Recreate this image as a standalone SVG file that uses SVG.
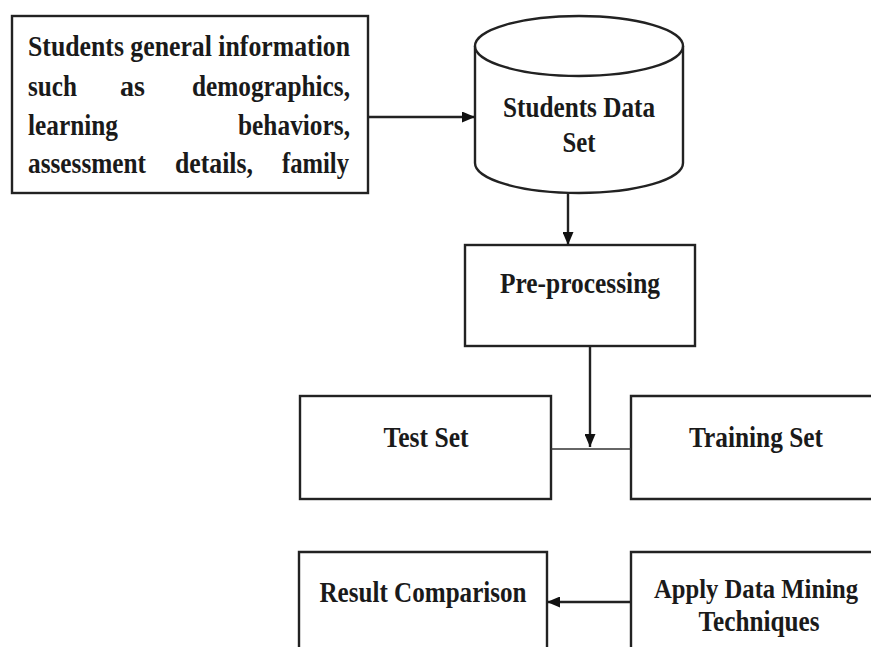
<svg xmlns="http://www.w3.org/2000/svg" width="871" height="647" viewBox="0 0 871 647">
<style>
.box{fill:#fff;stroke:#222;stroke-width:2.4}
.t{font-family:"Liberation Serif","Times New Roman",serif;font-weight:bold;font-size:29px;fill:#1a1a1a}
.c{stroke:#222;stroke-width:2.4;fill:none}
.thin{stroke:#333;stroke-width:1.3;fill:none}
</style>
<defs>
<marker id="ah" viewBox="0 0 13 11" refX="13" refY="5.5" markerWidth="13" markerHeight="11" markerUnits="userSpaceOnUse" orient="auto">
<path d="M0,0 L13,5.5 L0,11 z" fill="#111"/>
</marker>
</defs>
<rect width="871" height="647" fill="#fff"/>
<g id="info">
<rect class="box" x="12" y="16" width="356" height="177"/>
<text class="t" x="28" y="56" textLength="322" lengthAdjust="spacingAndGlyphs">Students general information</text>
<text class="t" x="28" y="96" textLength="49" lengthAdjust="spacingAndGlyphs">such</text>
<text class="t" x="120" y="96" textLength="25" lengthAdjust="spacingAndGlyphs">as</text>
<text class="t" x="192" y="96" textLength="158" lengthAdjust="spacingAndGlyphs">demographics,</text>
<text class="t" x="28" y="135" textLength="90" lengthAdjust="spacingAndGlyphs">learning</text>
<text class="t" x="238" y="135" textLength="112" lengthAdjust="spacingAndGlyphs">behaviors,</text>
<text class="t" x="28" y="173" textLength="118" lengthAdjust="spacingAndGlyphs">assessment</text>
<text class="t" x="175" y="173" textLength="78" lengthAdjust="spacingAndGlyphs">details,</text>
<text class="t" x="282" y="173" textLength="67" lengthAdjust="spacingAndGlyphs">family</text>
</g>
<g id="dataset">
<path class="box" d="M475,46 L475,163 A104,30 0 0 0 683,163 L683,46"/>
<ellipse class="box" cx="579" cy="46" rx="104" ry="30"/>
<text class="t" x="579" y="117" text-anchor="middle" textLength="152" lengthAdjust="spacingAndGlyphs">Students Data</text>
<text class="t" x="579" y="152" text-anchor="middle" textLength="33" lengthAdjust="spacingAndGlyphs">Set</text>
</g>
<g id="preprocessing">
<rect class="box" x="465" y="245" width="230" height="101"/>
<text class="t" x="580" y="293" text-anchor="middle" textLength="160" lengthAdjust="spacingAndGlyphs">Pre-processing</text>
</g>
<g id="testset">
<rect class="box" x="300" y="396" width="251" height="103"/>
<text class="t" x="426" y="447" text-anchor="middle" textLength="85" lengthAdjust="spacingAndGlyphs">Test Set</text>
</g>
<g id="trainingset">
<path class="box" d="M875,396 L631,396 L631,499 L875,499"/>
<text class="t" x="756" y="447" text-anchor="middle" textLength="134" lengthAdjust="spacingAndGlyphs">Training Set</text>
</g>
<g id="result">
<path class="box" d="M299,650 L299,552 L547,552 L547,650"/>
<text class="t" x="423" y="602" text-anchor="middle" textLength="207" lengthAdjust="spacingAndGlyphs">Result Comparison</text>
</g>
<g id="apply">
<path class="box" d="M875,552 L631,552 L631,650"/>
<text class="t" x="756" y="598" text-anchor="middle" textLength="204" lengthAdjust="spacingAndGlyphs" style="font-size:27px">Apply Data Mining</text>
<text class="t" x="759" y="631" text-anchor="middle" textLength="121" lengthAdjust="spacingAndGlyphs">Techniques</text>
</g>
<g id="connectors">
<line class="c" x1="368" y1="117" x2="475" y2="117" marker-end="url(#ah)"/>
<line class="c" x1="568" y1="193" x2="568" y2="245" marker-end="url(#ah)"/>
<line class="c" x1="590" y1="346" x2="590" y2="447" marker-end="url(#ah)"/>
<line class="thin" x1="551" y1="449" x2="631" y2="449"/>
<line class="c" x1="631" y1="602" x2="547" y2="602" marker-end="url(#ah)"/>
</g>
</svg>
